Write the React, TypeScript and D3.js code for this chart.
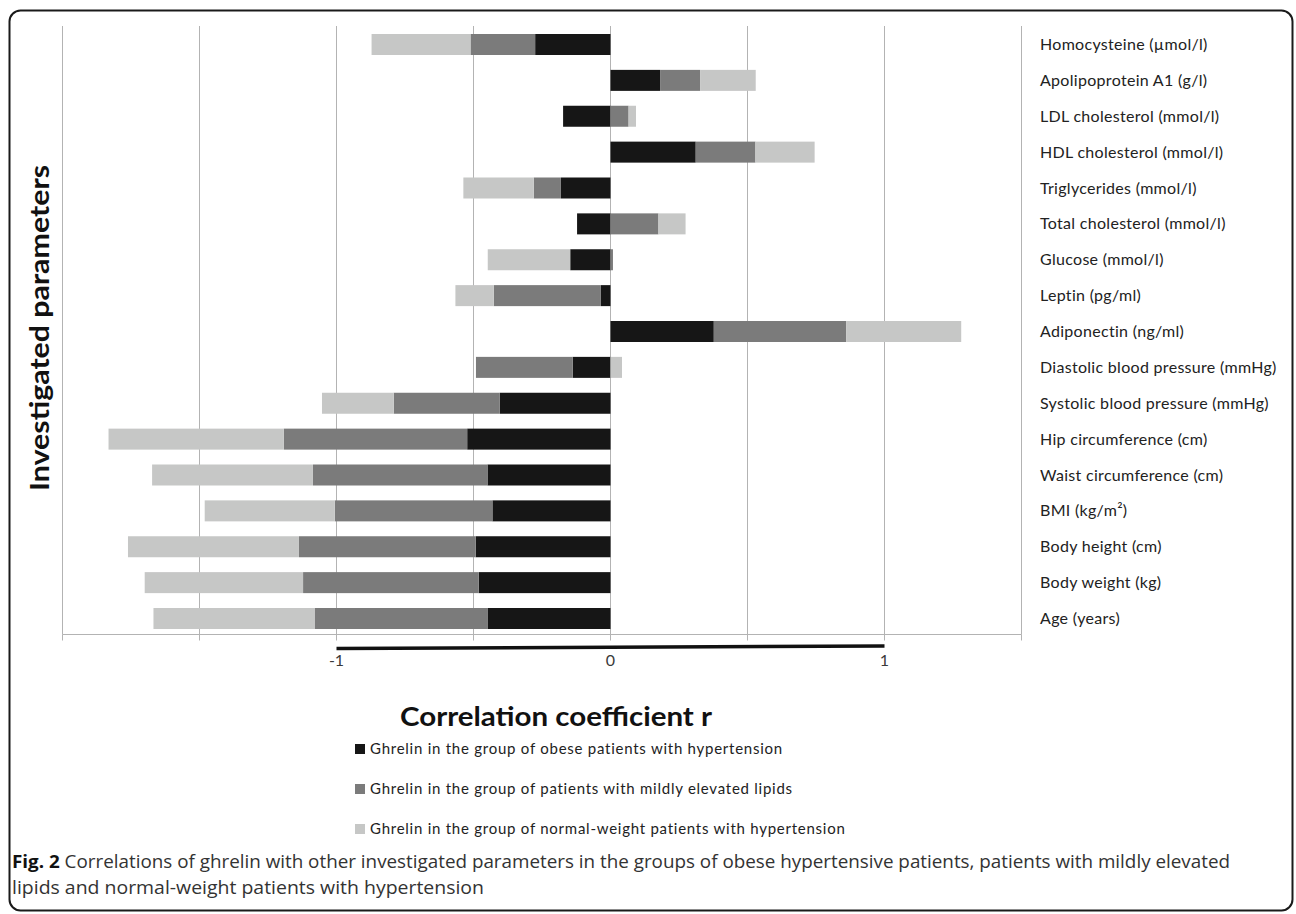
import React from "react";
import * as d3 from "d3";

const categories = [
  "Homocysteine (µmol/l)",
  "Apolipoprotein A1 (g/l)",
  "LDL cholesterol (mmol/l)",
  "HDL cholesterol (mmol/l)",
  "Triglycerides (mmol/l)",
  "Total cholesterol (mmol/l)",
  "Glucose (mmol/l)",
  "Leptin (pg/ml)",
  "Adiponectin (ng/ml)",
  "Diastolic blood pressure (mmHg)",
  "Systolic blood pressure (mmHg)",
  "Hip circumference (cm)",
  "Waist circumference (cm)",
  "BMI (kg/m²)",
  "Body height (cm)",
  "Body weight (kg)",
  "Age (years)",
];

const obese = [-0.275, 0.181, -0.173, 0.311, -0.181, -0.122, -0.147, -0.035, 0.377, -0.138, -0.404, -0.523, -0.449, -0.431, -0.492, -0.481, -0.449];
const lipids = [-0.236, 0.146, 0.066, 0.218, -0.099, 0.175, 0.009, -0.391, 0.483, -0.353, -0.387, -0.669, -0.637, -0.575, -0.645, -0.641, -0.631];
const normal = [-0.361, 0.203, 0.027, 0.216, -0.257, 0.099, -0.301, -0.14, 0.42, 0.042, -0.262, -0.64, -0.587, -0.475, -0.624, -0.578, -0.588];

const seriesKeys = ["obese", "lipids", "normal"];
const seriesLabels = [
  "Ghrelin in the group of obese patients with hypertension",
  "Ghrelin in the group of patients with mildly elevated lipids",
  "Ghrelin in the group of normal-weight patients with hypertension",
];
const seriesColors = ["#161616", "#7b7b7b", "#c6c7c6"];

const gridValues = [-2, -1.5, -1, -0.5, 0, 0.5, 1, 1.5];
const tickLabels = [-1, 0, 1];

const captionLine1 = "Correlations of ghrelin with other investigated parameters in the groups of obese hypertensive patients, patients with mildly elevated";
const captionLine2 = "lipids and normal-weight patients with hypertension";

export default function App() {
  const W = 1296;
  const H = 914;
  const x = d3.scaleLinear().domain([-2, 1.5]).range([62.5, 1021.5]);
  const y = d3.scalePoint<string>().domain(categories).range([44.5, 618.5]);
  const barH = 21;
  const plotTop = 26;
  const axisY = 634.5;

  const rows = categories.map((c, i) => ({ cat: c, obese: obese[i], lipids: lipids[i], normal: normal[i] }));
  const stacked = d3
    .stack<any>()
    .keys(seriesKeys)
    .offset(d3.stackOffsetDiverging)
    .order(d3.stackOrderNone)(rows);

  const labelFont = "Lato, 'Open Sans', sans-serif";

  return (
    <svg
      width={W}
      height={H}
      style={{ position: "absolute", left: 0, top: 0, background: "#fff" }}
      fontFamily={labelFont}
    >
      <rect x={0} y={0} width={W} height={H} fill="#fff" />
      <rect x={9.5} y={10.5} width={1283} height={900} rx={11} fill="none" stroke="#1a1a1a" strokeWidth={2} />

      {/* gridlines */}
      {gridValues.map((v) => (
        <line key={"g" + v} x1={x(v)} x2={x(v)} y1={plotTop} y2={axisY} stroke="#b3b3b3" strokeWidth={1} />
      ))}

      {/* bars */}
      {stacked.map((s, si) => (
        <g key={s.key} fill={seriesColors[si]}>
          {s.map((d, i) => {
            const x0 = x(Math.min(d[0], d[1]));
            const x1 = x(Math.max(d[0], d[1]));
            return (
              <rect
                key={i}
                x={x0}
                y={(y(categories[i]) as number) - barH / 2}
                width={Math.max(0, x1 - x0)}
                height={barH}
              />
            );
          })}
        </g>
      ))}

      {/* axis */}
      <line x1={x(-2)} x2={x(1.5)} y1={axisY} y2={axisY} stroke="#b3b3b3" strokeWidth={1.2} />
      {gridValues.map((v) => (
        <line key={"t" + v} x1={x(v)} x2={x(v)} y1={axisY} y2={axisY + 6} stroke="#b3b3b3" strokeWidth={1} />
      ))}
      <line x1={x(-1)} x2={x(1)} y1={648.5} y2={646} stroke="#111" strokeWidth={3.5} />
      {tickLabels.map((v) => (
        <text key={"l" + v} x={x(v)} y={666} textAnchor="middle" fontSize={16} fill="#3a3a3a">
          {v === -1 ? "-1" : String(v)}
        </text>
      ))}

      {/* category labels */}
      {categories.map((c) => (
        <text key={c} x={1040} y={(y(c) as number) + 5.5} fontSize={16} letterSpacing={0.3} fill="#222">
          {c}
        </text>
      ))}

      {/* axis titles */}
      <text
        transform="translate(49,328) rotate(-90)"
        textAnchor="middle"
        fontSize={27}
        fontWeight="bold"
        fill="#111"
        textLength={326}
        lengthAdjust="spacingAndGlyphs"
      >
        Investigated parameters
      </text>
      <text
        x={556}
        y={726}
        textAnchor="middle"
        fontSize={27}
        fontWeight="bold"
        fill="#111"
        textLength={312}
        lengthAdjust="spacingAndGlyphs"
      >
        Correlation coefficient r
      </text>

      {/* legend */}
      {seriesLabels.map((l, i) => (
        <g key={l} transform={`translate(355, ${749 + i * 40})`}>
          <rect x={0} y={-5} width={10} height={10} fill={seriesColors[i]} />
          <text x={15} y={5} fontSize={15} letterSpacing={0.75} fill="#222">
            {l}
          </text>
        </g>
      ))}

      {/* caption */}
      <text
        x={12}
        y={868}
        fontSize={18}
        fill="#333"
        fontFamily="'Liberation Sans Narrow', 'Open Sans', sans-serif"
        textLength={1218}
        lengthAdjust="spacingAndGlyphs"
      >
        <tspan fontWeight="bold" fill="#111">Fig. 2</tspan> {captionLine1}
      </text>
      <text
        x={12}
        y={894}
        fontSize={18}
        fill="#333"
        fontFamily="'Liberation Sans Narrow', 'Open Sans', sans-serif"
        textLength={472}
        lengthAdjust="spacingAndGlyphs"
      >
        {captionLine2}
      </text>
    </svg>
  );
}
